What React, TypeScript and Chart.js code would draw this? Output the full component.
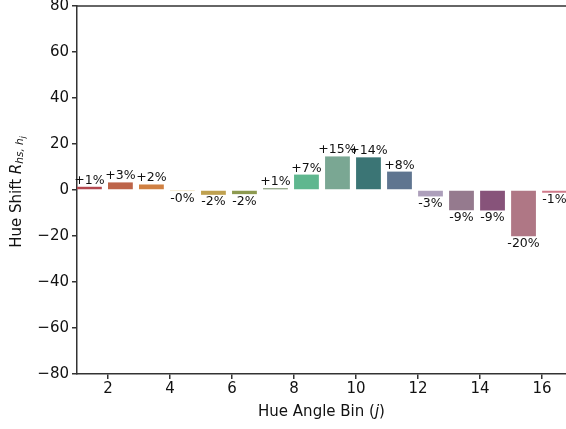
import React, { useEffect, useRef } from "react";
import { Chart, registerables } from "chart.js";

Chart.register(...registerables);

const bins = [1, 2, 3, 4, 5, 6, 7, 8, 9, 10, 11, 12, 13, 14, 15, 16];
const hueShift = [1.4, 3.3, 2.4, -0.45, -2.1, -1.8, 0.7, 6.7, 14.6, 14.2, 8.0, -2.8, -8.8, -8.9, -20.1, -1.2];
const barColors = [
  "#b3474f", "#bd6449", "#d08143", "#d8b050", "#bfa150", "#8d9a50", "#5a7a48", "#5fb78f",
  "#7aa793", "#3b7575", "#5f7590", "#ad9fbb", "#957a8e", "#87537a", "#af7785", "#d07a8a",
];
const xTickValues = [2, 4, 6, 8, 10, 12, 14, 16];
const yTickValues = [-80, -60, -40, -20, 0, 20, 40, 60, 80];
const barWidth = 0.8; // bars aligned on their left edge (width 0.8)

const FONT = "'DejaVu Sans', sans-serif";
const TEXT = "#111111";
const AXIS = "#333333";

const labelsPlugin = {
  id: "customText",
  afterDatasetsDraw(chart: any) {
    const ctx = chart.ctx;
    const meta = chart.getDatasetMeta(0);
    ctx.save();
    ctx.font = `12.5px ${FONT}`;
    ctx.fillStyle = TEXT;
    ctx.textAlign = "center";
    meta.data.forEach((el: any, i: number) => {
      const v = hueShift[i];
      const txt = (v >= 0 ? "+" : "-") + Math.abs(Math.round(v)) + "%";
      if (v >= 0) {
        ctx.textBaseline = "bottom";
        ctx.fillText(txt, el.x, el.y);
      } else {
        ctx.textBaseline = "top";
        ctx.fillText(txt, el.x, el.y + 1);
      }
    });
    ctx.restore();
  },
  afterDraw(chart: any) {
    const ctx = chart.ctx;
    const a = chart.chartArea;
    ctx.save();
    // top spine
    ctx.strokeStyle = AXIS;
    ctx.lineWidth = 1.5;
    ctx.beginPath();
    ctx.moveTo(a.left - 0.75, a.top);
    ctx.lineTo(a.right, a.top);
    ctx.stroke();

    // x title
    ctx.fillStyle = TEXT;
    ctx.textBaseline = "middle";
    ctx.textAlign = "left";
    const p1 = "Hue Angle Bin (";
    const p2 = "j";
    const p3 = ")";
    ctx.font = `15px ${FONT}`;
    const w1 = ctx.measureText(p1).width;
    const w3 = ctx.measureText(p3).width;
    ctx.font = `oblique 15px ${FONT}`;
    const w2 = ctx.measureText(p2).width;
    const total = w1 + w2 + w3;
    let x = (a.left + a.right) / 2 - total / 2;
    const ty = 412;
    ctx.font = `15px ${FONT}`;
    ctx.fillText(p1, x, ty);
    x += w1;
    ctx.font = `oblique 15px ${FONT}`;
    ctx.fillText(p2, x, ty);
    x += w2;
    ctx.font = `15px ${FONT}`;
    ctx.fillText(p3, x, ty);

    // y title (rotated)
    ctx.translate(17, (a.top + a.bottom) / 2 + 2);
    ctx.rotate(-Math.PI / 2);
    const parts = [
      { t: "Hue Shift ", f: `15px ${FONT}`, dy: 0 },
      { t: "R", f: `oblique 15px ${FONT}`, dy: 0 },
      { t: "hs, h", f: `oblique 10.5px ${FONT}`, dy: 3.5 },
      { t: "j", f: `oblique 7.5px ${FONT}`, dy: 6 },
    ];
    let tw = 0;
    const ws = parts.map((p) => {
      ctx.font = p.f;
      const w = ctx.measureText(p.t).width;
      tw += w;
      return w;
    });
    let px = -tw / 2;
    parts.forEach((p, i) => {
      ctx.font = p.f;
      ctx.fillText(p.t, px, p.dy);
      px += ws[i];
    });
    ctx.restore();
  },
};

export default function App() {
  const ref = useRef<HTMLCanvasElement>(null);
  useEffect(() => {
    if (!ref.current) return;
    const chart = new Chart(ref.current, {
      type: "bar",
      data: {
        datasets: [
          {
            data: bins.map((b, i) => ({ x: b + barWidth / 2, y: hueShift[i] })),
            backgroundColor: barColors,
            borderWidth: 0,
            borderRadius: 0,
            barPercentage: barWidth,
            categoryPercentage: 1,
          },
        ],
      },
      options: {
        responsive: false,
        animation: false,
        devicePixelRatio: 1,
        layout: { padding: { top: 6, right: 0, left: 0, bottom: 0 } },
        plugins: { legend: { display: false }, tooltip: { enabled: false }, title: { display: false } },
        scales: {
          x: {
            type: "linear",
            offset: false,
            min: 1,
            max: 16.77,
            afterBuildTicks: (s: any) => {
              s.ticks = xTickValues.map((v) => ({ value: v }));
            },
            afterFit: (s: any) => {
              s.height = 55;
              s.paddingLeft = 0;
              s.paddingRight = 0;
            },
            ticks: {
              color: TEXT,
              font: { family: FONT, size: 15 },
              padding: 1,
              maxRotation: 0,
              autoSkip: false,
            },
            grid: { display: true, offset: false, drawOnChartArea: false, drawTicks: true, tickLength: 5, color: AXIS, lineWidth: 1.5 },
            border: { display: true, color: AXIS, width: 1.5 },
          },
          y: {
            min: -80,
            max: 80,
            afterBuildTicks: (s: any) => {
              s.ticks = yTickValues.map((v) => ({ value: v }));
            },
            afterFit: (s: any) => {
              s.width = 77;
              s.paddingTop = 0;
              s.paddingBottom = 0;
            },
            ticks: {
              color: TEXT,
              font: { family: FONT, size: 15 },
              padding: 3,
              callback: (v: any) => String(v).replace("-", "\u2212"),
            },
            grid: { display: true, drawOnChartArea: false, drawTicks: true, tickLength: 5, color: AXIS, lineWidth: 1.5 },
            border: { display: true, color: AXIS, width: 1.5 },
          },
        },
      },
      plugins: [labelsPlugin],
    });
    return () => chart.destroy();
  }, []);
  return (
    <div style={{ position: "absolute", left: 0, top: 0, width: 566, height: 429, background: "#fff" }}>
      <canvas ref={ref} width={566} height={429} style={{ width: 566, height: 429, display: "block" }} />
    </div>
  );
}
